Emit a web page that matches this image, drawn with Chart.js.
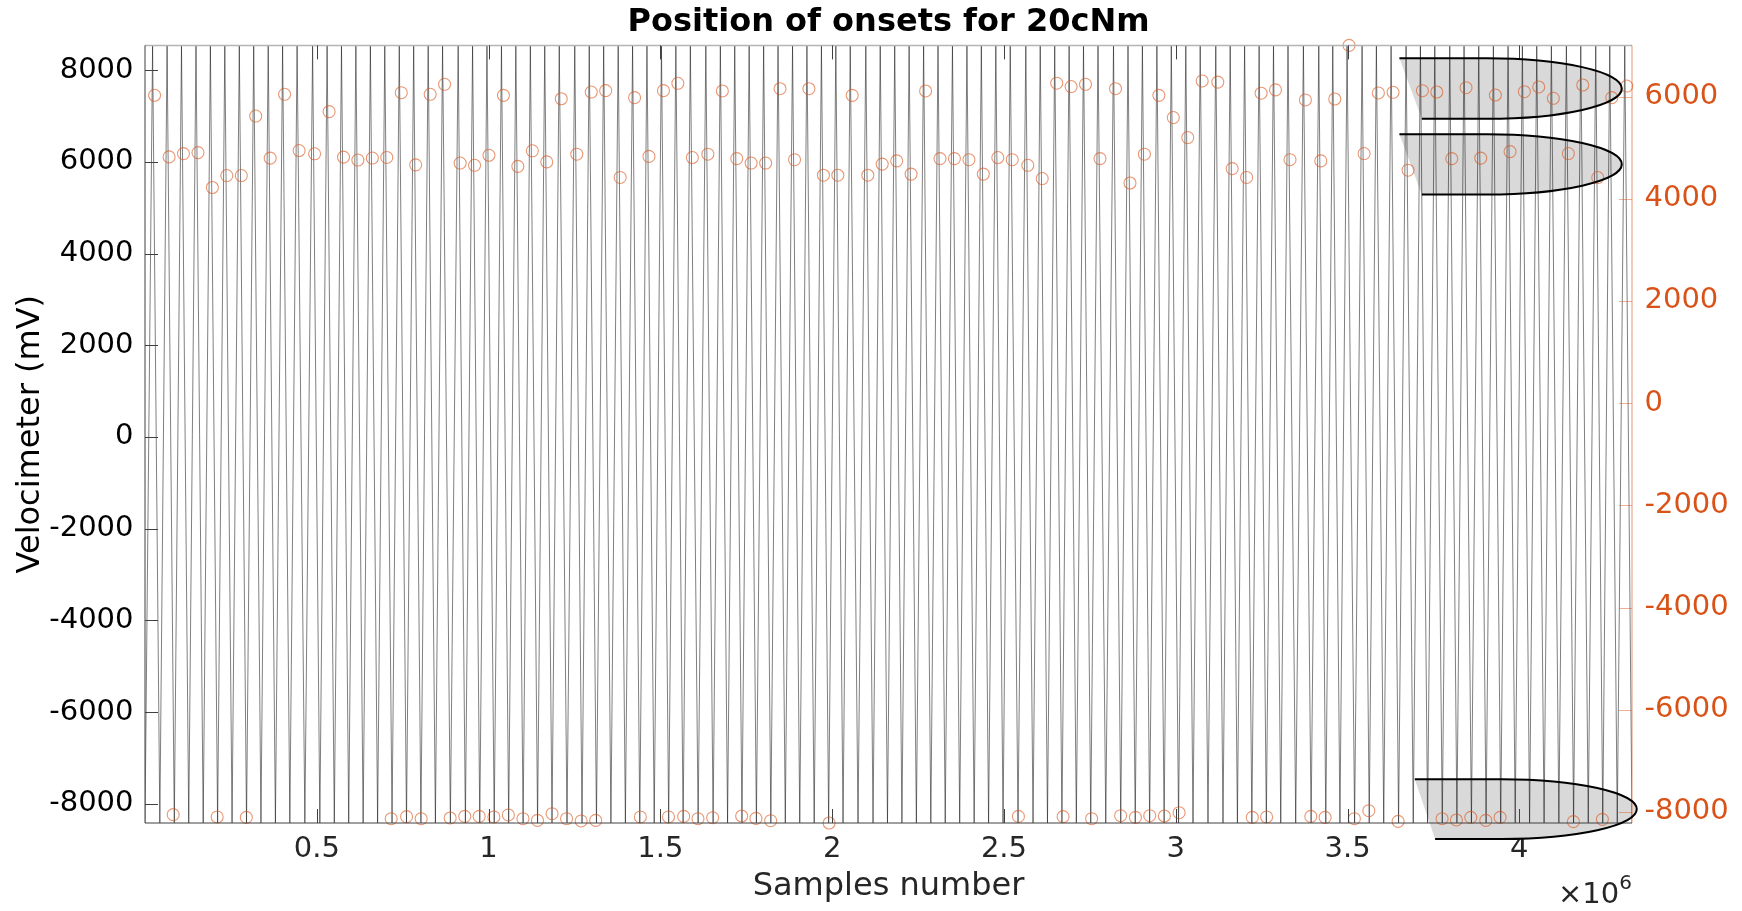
<!DOCTYPE html>
<html>
<head>
<meta charset="utf-8">
<title>Position of onsets for 20cNm</title>
<script src="https://cdn.jsdelivr.net/npm/chart.js@4.4.1/dist/chart.umd.min.js"></script>
<style>
  html, body { margin: 0; padding: 0; background: #ffffff; }
  canvas { display: block; }
</style>
</head>
<body>
<canvas id="chart" width="1742" height="911"></canvas>
<script>
// Velocimeter signal: sample index of every peak and trough
const peakSamples = [
  22100, 64300, 106200, 148400, 190300, 232300, 274500, 316400, 358600, 400500,
  442700, 487800, 530000, 571900, 613800, 656000, 697900, 740100, 782000, 824200,
  866100, 911500, 953400, 995300, 1037500, 1079400, 1121600, 1163500, 1205700, 1250900,
  1293000, 1335000, 1377200, 1419100, 1461000, 1503200, 1545100, 1587300, 1632400, 1674600,
  1716500, 1758400, 1800600, 1842500, 1884700, 1926600, 1968800, 2010700, 2052600, 2098000,
  2139900, 2182100, 2224000, 2266200, 2308100, 2350100, 2392300, 2434200, 2476400, 2518300,
  2563700, 2605600, 2647800, 2689700, 2731600, 2773800, 2818900, 2861100, 2903000, 2945200,
  2987100, 3029300, 3071200, 3116600, 3158500, 3200500, 3242700, 3284600, 3326800, 3371600,
  3416400, 3457100, 3498700, 3542400, 3584000, 3626800, 3670400, 3712100, 3754000, 3797600,
  3839200, 3882000, 3924500, 3967300, 4008900, 4050800, 4093300, 4137000, 4178900, 4222500,
  4263300, 4306900
];
const troughSamples = [
  0,
  43200, 85300, 127300, 169400, 211300, 253400, 295500, 337500, 379600, 421600,
  465300, 508900, 551000, 592900, 634900, 677000, 719000, 761100, 803100, 845200,
  888800, 932500, 974400, 1016400, 1058500, 1100500, 1142600, 1184600, 1228300, 1272000,
  1314000, 1356100, 1398200, 1440100, 1482100, 1524200, 1566200, 1609900, 1653500, 1695600,
  1737500, 1779500, 1821600, 1863600, 1905700, 1947700, 1989800, 2031700, 2075300, 2119000,
  2161000, 2203100, 2245100, 2287200, 2329100, 2371200, 2413300, 2455300, 2497400, 2541000,
  2584700, 2626700, 2668800, 2710700, 2752700, 2796400, 2840000, 2882100, 2924100, 2966200,
  3008200, 3050300, 3093900, 3137600, 3179500, 3221600, 3263700, 3305700, 3349200, 3394000,
  3436800, 3477900, 3520600, 3563200, 3605400, 3648600, 3691300, 3733100, 3775800, 3818400,
  3860600, 3903300, 3945900, 3988100, 4029900, 4072100, 4115200, 4158000, 4200700, 4242900,
  4285100, 4328000
];
const signalHigh = 8540;   // mV at every peak
const signalLow = -8420;   // mV at every trough

// Detected onsets (right axis)
const onsetHighX = [
  27900, 70100, 112000, 154200, 196100, 238100, 280300, 322200, 364400, 406300,
  448500, 493600, 535800, 577700, 619600, 661800, 703700, 745900, 787800, 830000,
  871900, 917300, 959200, 1001100, 1043300, 1085200, 1127400, 1169300, 1211500, 1256700,
  1298800, 1340800, 1383000, 1424900, 1466800, 1509000, 1550900, 1593100, 1638200, 1680400,
  1722300, 1764200, 1806400, 1848300, 1890500, 1932400, 1974600, 2016500, 2058400, 2103800,
  2145700, 2187900, 2229800, 2272000, 2313900, 2355900, 2398100, 2440000, 2482200, 2524100,
  2569500, 2611400, 2653600, 2695500, 2737400, 2779600, 2824700, 2866900, 2908800, 2951000,
  2992900, 3035100, 3077000, 3122400, 3164300, 3206300, 3248500, 3290400, 3332600, 3377400,
  3422200, 3462900, 3504500, 3548200, 3589800, 3632600, 3676200, 3717900, 3759800, 3803400,
  3845000, 3887800, 3930300, 3973100, 4014700, 4056600, 4099100, 4142800, 4184700, 4228300,
  4269100, 4312700
];
const onsetHighY = [
  6025, 4819, 4883, 4903, 4220, 4454, 4454, 5618, 4794, 6044,
  4944, 4880, 5704, 4815, 4757, 4796, 4808, 6075, 4663, 6044,
  6240, 4699, 4655, 4851, 6023, 4634, 4938, 4721, 5957, 4872,
  6088, 6115, 4417, 5978, 4829, 6115, 6259, 4807, 4872, 6109,
  4786, 4699, 4699, 6153, 4764, 6153, 4460, 4460, 6023, 4460,
  4677, 4742, 4482, 6109, 4786, 4786, 4764, 4482, 4807, 4764,
  4655, 4395, 6261, 6196, 6240, 4786, 6153, 4308, 4872, 6023,
  5589, 5198, 6305, 6283, 4590, 4417, 6066, 6131, 4764, 5933,
  4741, 5952, 7001, 4884, 6070, 6083, 4559, 6114, 6089, 4786,
  6173, 4794, 6030, 4923, 6095, 6187, 5966, 4884, 6226, 4415,
  5978, 6206
];
const onsetLowX = [
  82100, 210100, 294900, 716500, 761300, 803800, 888200, 930700, 972600, 1015400,
  1057600, 1100100, 1142300, 1184800, 1227000, 1269500, 1311700, 1441800, 1523600, 1567800,
  1609400, 1652200, 1736600, 1778200, 1821000, 1991200, 2542100, 2672200, 2755200, 2839600,
  2882700, 2924300, 2967000, 3009800, 3222900, 3264500, 3393200, 3434800, 3520000, 3562000,
  3647300, 3775300, 3816900, 3858800, 3902500, 3944100, 4157400, 4241800
];
const onsetLowY = [
  -8054, -8099, -8107, -8133, -8093, -8133, -8119, -8088, -8088, -8099,
  -8060, -8133, -8166, -8035, -8133, -8177, -8166, -8099, -8099, -8088,
  -8133, -8113, -8080, -8127, -8172, -8217, -8088, -8093, -8133, -8074,
  -8107, -8074, -8080, -8015, -8107, -8099, -8088, -8107, -8133, -7976,
  -8185, -8133, -8158, -8107, -8166, -8107, -8191, -8146
];

// Tick values
const xTicks = [500000, 1000000, 1500000, 2000000, 2500000, 3000000, 3500000, 4000000];
const leftTicks = [-8000, -6000, -4000, -2000, 0, 2000, 4000, 6000, 8000];
const rightTicks = [-8000, -6000, -4000, -2000, 0, 2000, 4000, 6000];

// ---- build the series ----
const signalPoints = [{ x: troughSamples[0], y: signalLow }];
for (let i = 0; i < peakSamples.length; i++) {
  signalPoints.push({ x: peakSamples[i], y: signalHigh });
  if (i + 1 < troughSamples.length) signalPoints.push({ x: troughSamples[i + 1], y: signalLow });
}
const onsetPoints = onsetHighX.map((x, i) => ({ x, y: onsetHighY[i] }))
  .concat(onsetLowX.map((x, i) => ({ x, y: onsetLowY[i] })));

const FONT = "'DejaVu Sans', 'Liberation Sans', sans-serif";
const ORANGE = '#D95319';

// Shaded outlined tabs in the upper and lower right corner (x in samples, y in mV)
const tabs = [
  { xTop: 3651000, xBottom: 3716200, xCenter: 3905400, xTip: 4298300, yTop: 8259, yBottom: 6939 },
  { xTop: 3651000, xBottom: 3716200, xCenter: 3905400, xTip: 4298300, yTop: 6603, yBottom: 5288 },
  { xTop: 3695800, xBottom: 3754900, xCenter: 3949000, xTip: 4341900, yTop: -7464, yBottom: -8772 }
];

function tabPath(ctx, chart, t, closed) {
  const xs = chart.scales.x, ys = chart.scales.yL;
  const top = ys.getPixelForValue(t.yTop), bot = ys.getPixelForValue(t.yBottom);
  const cx = xs.getPixelForValue(t.xCenter), rx = xs.getPixelForValue(t.xTip) - cx;
  const cy = (top + bot) / 2, ry = (bot - top) / 2;
  ctx.beginPath();
  ctx.moveTo(xs.getPixelForValue(t.xTop), top);
  ctx.lineTo(cx, top);
  ctx.ellipse(cx, cy, rx, ry, 0, -Math.PI / 2, Math.PI / 2);
  ctx.lineTo(xs.getPixelForValue(t.xBottom), bot);
  if (closed) ctx.closePath();
}

const decorPlugin = {
  id: 'decor',
  beforeDatasetsDraw(chart) {
    const ctx = chart.ctx;
    ctx.save();
    ctx.fillStyle = '#d9d9d9';
    tabs.forEach(t => { tabPath(ctx, chart, t, true); ctx.fill(); });
    ctx.restore();
  },
  afterDatasetsDraw(chart) {
    const ctx = chart.ctx;
    const a = chart.chartArea;
    const xs = chart.scales.x, yl = chart.scales.yL, yr = chart.scales.yR;
    ctx.save();
    // frame
    ctx.lineWidth = 1.5;
    ctx.strokeStyle = '#b5b5b5';
    ctx.beginPath(); ctx.moveTo(a.left, a.top); ctx.lineTo(a.right, a.top); ctx.stroke();
    ctx.lineWidth = 1;
    ctx.strokeStyle = '#404040';
    ctx.beginPath(); ctx.moveTo(a.left, a.top); ctx.lineTo(a.left, a.bottom); ctx.lineTo(a.right, a.bottom); ctx.stroke();
    ctx.lineWidth = 1.5;
    ctx.strokeStyle = 'rgba(217,83,25,0.4)';
    ctx.beginPath(); ctx.moveTo(a.right, a.top); ctx.lineTo(a.right, a.bottom); ctx.stroke();

    // inward tick marks
    ctx.lineWidth = 1;
    ctx.strokeStyle = '#404040';
    ctx.beginPath();
    xTicks.forEach(v => {
      const p = Math.round(xs.getPixelForValue(v)) + 0.5;
      ctx.moveTo(p, a.bottom); ctx.lineTo(p, a.bottom - 14);
      ctx.moveTo(p, a.top); ctx.lineTo(p, a.top + 14);
    });
    leftTicks.forEach(v => {
      const p = Math.round(yl.getPixelForValue(v)) + 0.5;
      ctx.moveTo(a.left, p); ctx.lineTo(a.left + 13, p);
    });
    ctx.stroke();
    ctx.strokeStyle = 'rgba(217,83,25,0.45)';
    ctx.beginPath();
    rightTicks.forEach(v => {
      const p = Math.round(yr.getPixelForValue(v)) + 0.5;
      ctx.moveTo(a.right, p); ctx.lineTo(a.right - 13, p);
    });
    ctx.stroke();

    // tab outlines
    ctx.lineWidth = 2;
    ctx.strokeStyle = '#000000';
    tabs.forEach(t => { tabPath(ctx, chart, t, false); ctx.stroke(); });

    // exponent of the x axis
    ctx.fillStyle = '#262626';
    ctx.textBaseline = 'middle';
    ctx.textAlign = 'right';
    ctx.font = '20px ' + FONT;
    const expW = ctx.measureText('6').width;
    ctx.fillText('6', a.right, 884);
    ctx.font = '29px ' + FONT;
    ctx.fillText('\u00d710', a.right - expW, 895);
    ctx.restore();
  }
};

new Chart(document.getElementById('chart'), {
  type: 'line',
  data: {
    datasets: [
      {
        type: 'scatter',
        label: 'Onsets',
        data: onsetPoints,
        yAxisID: 'yR',
        showLine: false,
        pointStyle: 'circle',
        pointRadius: 6,
        pointBorderWidth: 1.1,
        pointBorderColor: 'rgba(217,83,25,0.6)',
        pointBackgroundColor: 'rgba(0,0,0,0)',
        clip: false
      },
      {
        type: 'line',
        label: 'Velocimeter',
        data: signalPoints,
        yAxisID: 'yL',
        borderColor: 'rgba(0,0,0,0.5)',
        borderWidth: 1,
        pointRadius: 0,
        tension: 0,
        fill: false
      }
    ]
  },
  options: {
    responsive: false,
    animation: false,
    devicePixelRatio: 1,
    layout: { padding: 0 },
    plugins: {
      legend: { display: false },
      tooltip: { enabled: false },
      title: {
        display: true,
        fullSize: false,
        text: 'Position of onsets for 20cNm',
        color: '#000000',
        font: { family: FONT, size: 32, weight: 'bold', lineHeight: 1.2 },
        padding: { top: 3, bottom: 4 }
      }
    },
    scales: {
      x: {
        type: 'linear',
        position: 'bottom',
        min: 0,
        max: 4328000,
        afterBuildTicks: s => { s.ticks = xTicks.map(v => ({ value: v })); },
        afterFit: s => { s.height = 88; },
        grid: { display: false, drawTicks: false },
        border: { display: false },
        ticks: {
          autoSkip: false,
          maxRotation: 0,
          padding: 9,
          color: '#262626',
          font: { family: FONT, size: 29 },
          callback: v => String(v / 1000000)
        },
        title: {
          display: true,
          text: 'Samples number',
          color: '#262626',
          font: { family: FONT, size: 32 },
          padding: { top: 0, bottom: 5 }
        }
      },
      yL: {
        type: 'linear',
        position: 'left',
        min: -8421,
        max: 8540,
        afterBuildTicks: s => { s.ticks = leftTicks.map(v => ({ value: v })); },
        afterFit: s => { s.width = 145; },
        grid: { display: false, drawTicks: false },
        border: { display: false },
        ticks: {
          autoSkip: false,
          padding: 11.5,
          color: '#000000',
          font: { family: FONT, size: 29 },
          callback: v => String(v)
        },
        title: {
          display: true,
          text: 'Velocimeter (mV)',
          color: '#000000',
          font: { family: FONT, size: 32 },
          padding: { top: 11, bottom: 0 }
        }
      },
      yR: {
        type: 'linear',
        position: 'right',
        min: -8217,
        max: 7001,
        afterBuildTicks: s => { s.ticks = rightTicks.map(v => ({ value: v })); },
        afterFit: s => { s.width = 110; },
        grid: { display: false, drawTicks: false },
        border: { display: false },
        ticks: {
          autoSkip: false,
          padding: 12.5,
          color: ORANGE,
          font: { family: FONT, size: 29 },
          callback: v => String(v)
        }
      }
    }
  },
  plugins: [decorPlugin]
});
</script>
</body>
</html>
